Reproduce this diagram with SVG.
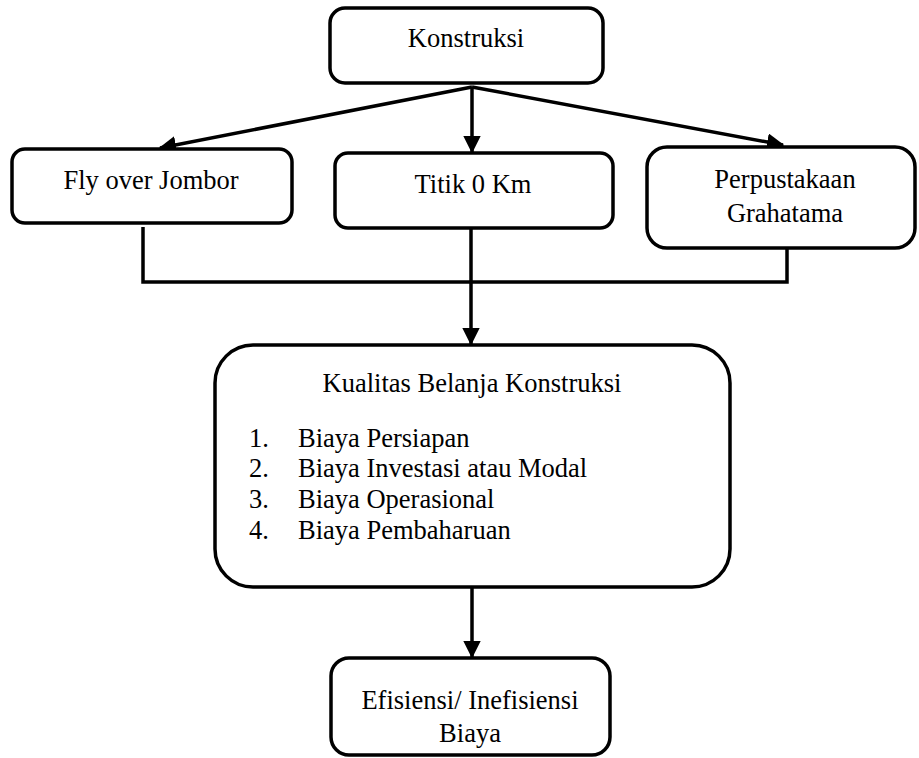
<svg xmlns="http://www.w3.org/2000/svg" width="919" height="758" viewBox="0 0 919 758">
<style>
.box{fill:#fff;stroke:#000;stroke-width:3.5}
.t{font-family:"Liberation Serif","Times New Roman",serif;font-size:26.5px;fill:#000}
.c{text-anchor:middle}
.ln{fill:none;stroke:#000;stroke-width:3.5}
</style>
<defs>
<marker id="ah" markerWidth="5" markerHeight="5" refX="4.6" refY="2.5" orient="auto" markerUnits="strokeWidth" viewBox="0 0 5 5">
<path d="M0,0 L5,2.5 L0,5 z" fill="#000"/>
</marker>
</defs>
<rect width="919" height="758" fill="#fff"/>
<g id="connectors">
<line class="ln" x1="472" y1="87" x2="160" y2="148" marker-end="url(#ah)"/>
<line class="ln" x1="472" y1="87" x2="472" y2="152" marker-end="url(#ah)"/>
<line class="ln" x1="472" y1="87" x2="783" y2="145" marker-end="url(#ah)"/>
<polyline class="ln" points="143,227 143,282 787,282 787,248"/>
<line class="ln" x1="471" y1="228" x2="471" y2="344" marker-end="url(#ah)"/>
<line class="ln" x1="472" y1="587" x2="472" y2="657" marker-end="url(#ah)"/>
</g>
<g id="konstruksi">
<rect class="box" x="330" y="8" width="273" height="75" rx="15"/>
<text class="t c" x="466" y="47">Konstruksi</text>
</g>
<g id="flyover">
<rect class="box" x="12" y="149" width="280" height="74" rx="13"/>
<text class="t c" x="151" y="189">Fly over Jombor</text>
</g>
<g id="titik">
<rect class="box" x="335" y="153" width="278" height="75" rx="13"/>
<text class="t c" x="473" y="193">Titik 0 Km</text>
</g>
<g id="perpustakaan">
<rect class="box" x="647" y="147" width="268" height="101" rx="20"/>
<text class="t c" x="785" y="188">Perpustakaan</text>
<text class="t c" x="785" y="222">Grahatama</text>
</g>
<g id="kualitas">
<rect class="box" x="215" y="345" width="515" height="242" rx="38"/>
<text class="t c" x="472" y="392">Kualitas Belanja Konstruksi</text>
<text class="t" x="249" y="447">1.</text>
<text class="t" x="298" y="447">Biaya Persiapan</text>
<text class="t" x="249" y="477">2.</text>
<text class="t" x="298" y="477">Biaya Investasi atau Modal</text>
<text class="t" x="249" y="508">3.</text>
<text class="t" x="298" y="508">Biaya Operasional</text>
<text class="t" x="249" y="539">4.</text>
<text class="t" x="298" y="539">Biaya Pembaharuan</text>
</g>
<g id="efisiensi">
<rect class="box" x="331" y="658" width="279" height="97" rx="18"/>
<text class="t c" x="470" y="709">Efisiensi/ Inefisiensi</text>
<text class="t c" x="470" y="742">Biaya</text>
</g>
</svg>
